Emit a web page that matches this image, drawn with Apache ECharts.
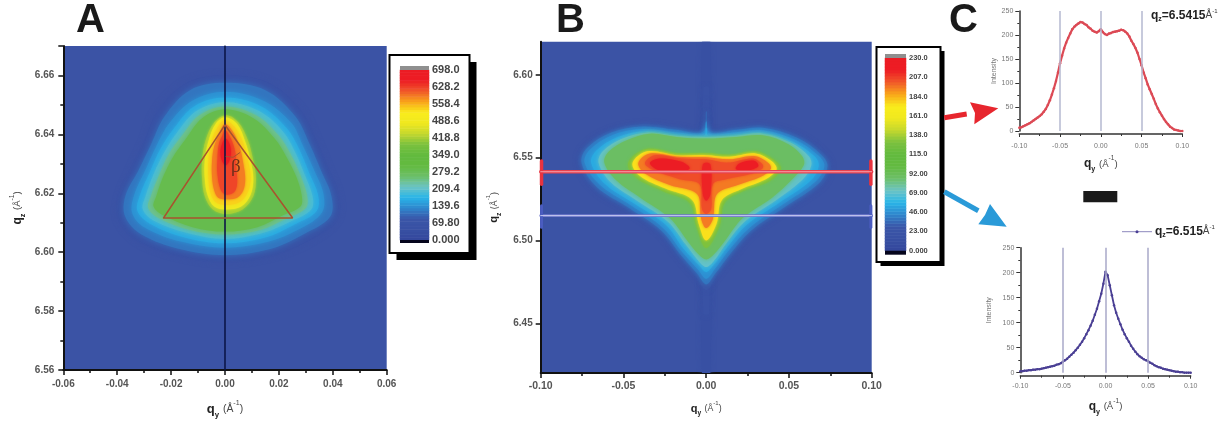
<!DOCTYPE html>
<html><head><meta charset="utf-8">
<style>html,body{margin:0;padding:0;background:#fff}#c{width:1229px;height:421px}</style>
<script src="https://cdn.jsdelivr.net/npm/echarts@6/dist/echarts.min.js"></script></head>
<body><div id="c"></div>
<script>
// Colour scale shared by both false-colour maps (low to high)
const palette=['#33479c','#3850a3','#3a56a8','#2f86cc','#29b5e8','#6cc4c4','#6cbf68','#63ba40','#62ba3e','#7bc13e','#c4d82e','#f0e81f','#f9ec1c','#f9a51a','#f0592a','#ed1c24','#ec1c24'];

// Panel A: iso-intensity outlines [qy, qz], with the intensity of each outline
const levelsA=[60,115,140,165,195,240,290,420,480,540,590,625,690];
const ringsA=[
[[0,6.660],[.016,6.6575],[.028,6.648],[.034,6.637],[.038,6.628],[.042,6.618],[.041,6.611],[.031,6.604],[.017,6.599],[0,6.597],[-.017,6.599],[-.032,6.604],[-.039,6.611],[-.039,6.618],[-.0345,6.628],[-.030,6.637],[-.025,6.648],[-.014,6.6575]],
[[0,6.6575],[.015,6.655],[.0262,6.646],[.0315,6.6365],[.0355,6.628],[.0395,6.619],[.039,6.612],[.029,6.606],[.0165,6.601],[0,6.599],[-.0165,6.601],[-.031,6.606],[-.037,6.612],[-.037,6.619],[-.032,6.628],[-.0275,6.6365],[-.0225,6.646],[-.013,6.655]],
[[0,6.6545],[.014,6.6515],[.0245,6.644],[.029,6.636],[.033,6.628],[.0365,6.620],[.036,6.6135],[.028,6.608],[.016,6.6035],[0,6.6015],[-.016,6.6035],[-.030,6.6085],[-.0345,6.6135],[-.0335,6.620],[-.0295,6.628],[-.0255,6.636],[-.0205,6.644],[-.012,6.6515]],
[[0,6.6525],[.0135,6.6495],[.023,6.642],[.0275,6.635],[.0312,6.627],[.0345,6.6195],[.034,6.614],[.026,6.6095],[.015,6.605],[0,6.603],[-.015,6.605],[-.0275,6.6095],[-.0325,6.614],[-.0315,6.6195],[-.028,6.627],[-.024,6.635],[-.019,6.642],[-.0115,6.6495]],
[[0,6.651],[.0125,6.648],[.0215,6.641],[.026,6.634],[.0295,6.6265],[.0325,6.619],[.032,6.6145],[.0245,6.6105],[.014,6.6065],[0,6.6045],[-.014,6.6065],[-.026,6.6105],[-.0305,6.6145],[-.0295,6.619],[-.0265,6.6265],[-.0225,6.634],[-.0175,6.641],[-.0105,6.648]],
[[0,6.6495],[.0115,6.6465],[.02,6.6395],[.0245,6.633],[.028,6.626],[.0305,6.619],[.03,6.615],[.023,6.6115],[.013,6.6075],[0,6.606],[-.013,6.6075],[-.0245,6.6115],[-.0285,6.615],[-.0275,6.619],[-.0245,6.626],[-.021,6.633],[-.016,6.6395],[-.0095,6.6465]],
[[0,6.6485],[.0105,6.6455],[.0185,6.6385],[.023,6.632],[.0265,6.6255],[.0285,6.619],[.028,6.6155],[.0215,6.6125],[.012,6.6085],[0,6.607],[-.012,6.6085],[-.023,6.6125],[-.0265,6.6155],[-.0255,6.619],[-.023,6.6255],[-.0195,6.632],[-.0145,6.6385],[-.0085,6.6455]],
[[.0005,6.6465],[.005,6.644],[.0085,6.638],[.0105,6.631],[.0115,6.625],[.0105,6.619],[.0065,6.6145],[.0005,6.613],[-.0045,6.6145],[-.0075,6.619],[-.0085,6.625],[-.0085,6.631],[-.0072,6.638],[-.004,6.644]],
[[0,6.6458],[.0045,6.6435],[.0075,6.6375],[.0095,6.631],[.0105,6.625],[.0095,6.6195],[.006,6.6155],[.0005,6.6145],[-.004,6.6155],[-.0065,6.6195],[-.0075,6.625],[-.0075,6.631],[-.0062,6.6375],[-.0035,6.6435]],
[[0,6.6449],[.004,6.642],[.0068,6.637],[.0085,6.631],[.0095,6.6255],[.0085,6.6205],[.0055,6.617],[.0005,6.616],[-.0035,6.617],[-.0055,6.6205],[-.0062,6.6255],[-.0062,6.631],[-.0052,6.637],[-.003,6.642]],
[[0,6.6435],[.0032,6.6405],[.0055,6.6355],[.0068,6.630],[.0075,6.625],[.0068,6.621],[.0045,6.6185],[.0005,6.618],[-.0025,6.6185],[-.004,6.621],[-.0048,6.6255],[-.0048,6.631],[-.004,6.636],[-.002,6.6405]],
[[0,6.6415],[.0022,6.6385],[.0038,6.634],[.0042,6.6285],[.0045,6.6235],[.0035,6.6205],[.0005,6.6195],[-.0015,6.621],[-.0028,6.6265],[-.0028,6.632],[-.0022,6.637],[-.001,6.6395]],
[[.0003,6.6385],[.0018,6.6365],[.0022,6.6335],[.0016,6.631],[.0003,6.6295],[-.0011,6.631],[-.0017,6.634],[-.001,6.637]]
];
// Panel B: iso-intensity outlines [qy, qz]
const levelsB=[14,19,26,38,46,54,70,88,130,175,195,204,226,214,218];
const ringsB=[
[[-.0025,6.62],[.0025,6.62],[.0025,6.42],[-.0025,6.42]],
[[-.0018,6.592],[.0018,6.592],[.0018,6.456],[-.0018,6.456]],
[[-.002,6.5675],[0,6.585],[.002,6.5675],[.0185,6.5685],[.0345,6.5695],[.0565,6.5635],[.0715,6.5525],[.0755,6.5448],[.0705,6.5335],[.0485,6.5185],[.0285,6.5045],[.016,6.4905],[.006,6.4775],[0,6.470],[-.006,6.4775],[-.016,6.489],[-.0285,6.5045],[-.0485,6.5185],[-.0685,6.5315],[-.0775,6.5468],[-.0735,6.557],[-.0585,6.5665],[-.0385,6.5705],[-.0185,6.5685]],
[[-.002,6.5655],[0,6.578],[.002,6.5655],[.0183,6.5668],[.0343,6.568],[.0553,6.5618],[.0698,6.5515],[.0733,6.5448],[.0683,6.5347],[.0473,6.52],[.0272,6.506],[.015,6.4925],[.0055,6.480],[0,6.4735],[-.0055,6.48],[-.015,6.4908],[-.0272,6.506],[-.0473,6.52],[-.0663,6.5325],[-.0753,6.5468],[-.072,6.5558],[-.0573,6.5652],[-.0383,6.5688],[-.0183,6.5668]],
[[-.002,6.5645],[0,6.572],[.002,6.5645],[.0181,6.5653],[.0342,6.5665],[.0543,6.5605],[.0683,6.5508],[.0714,6.5448],[.0663,6.5358],[.0462,6.5217],[.0261,6.5076],[.0141,6.4946],[.005,6.4825],[0,6.4769],[-.005,6.4825],[-.0141,6.4926],[-.0261,6.5076],[-.0462,6.5217],[-.0643,6.5337],[-.0734,6.5468],[-.0704,6.5548],[-.0563,6.5639],[-.0382,6.5673],[-.0181,6.5653]],
[[-.0015,6.563],[0,6.568],[.0015,6.563],[.0181,6.564],[.034,6.5652],[.0525,6.5595],[.0655,6.5508],[.068,6.545],[.063,6.536],[.0438,6.5225],[.0245,6.5095],[.0133,6.4965],[.0047,6.4855],[0,6.481],[-.0047,6.4855],[-.0133,6.4945],[-.0245,6.5095],[-.0438,6.5225],[-.061,6.534],[-.0695,6.5468],[-.0665,6.5542],[-.0535,6.5625],[-.037,6.566],[-.0181,6.564]],
[[0,6.5625],[.0181,6.5632],[.034,6.5645],[.0512,6.559],[.062,6.5508],[.0635,6.5452],[.058,6.5365],[.042,6.5242],[.0233,6.5115],[.0123,6.4985],[.0045,6.4875],[0,6.484],[-.0045,6.4875],[-.0123,6.4975],[-.0233,6.5115],[-.042,6.5242],[-.0575,6.535],[-.065,6.5468],[-.0625,6.5538],[-.0505,6.5615],[-.035,6.5652],[-.018,6.5632]],
[[0,6.5615],[.0181,6.5625],[.034,6.5635],[.050,6.558],[.058,6.5508],[.059,6.5455],[.052,6.537],[.040,6.526],[.022,6.5135],[.0115,6.50],[.0045,6.4915],[0,6.4885],[-.0045,6.4915],[-.0115,6.50],[-.022,6.5135],[-.040,6.526],[-.054,6.536],[-.0615,6.5468],[-.059,6.5535],[-.048,6.5605],[-.034,6.5645],[-.018,6.5625]],
[[0,6.5528],[.0141,6.5518],[.0302,6.5538],[.0422,6.5478],[.0452,6.5428],[.0382,6.5358],[.0221,6.5297],[.0111,6.5227],[.008,6.5086],[0,6.4956],[-.006,6.5086],[-.01,6.5227],[-.0261,6.5297],[-.0422,6.5378],[-.0472,6.5468],[-.0362,6.5552],[-.0181,6.5528]],
[[0,6.5515],[.0141,6.5505],[.0298,6.5525],[.040,6.5475],[.0425,6.5428],[.036,6.537],[.021,6.531],[.0095,6.5245],[.0062,6.510],[0,6.500],[-.0045,6.51],[-.0085,6.5245],[-.025,6.5315],[-.040,6.539],[-.0445,6.5468],[-.0355,6.5538],[-.018,6.5515]],
[[0,6.5502],[.0141,6.549],[.029,6.551],[.0375,6.5468],[.039,6.5432],[.033,6.5385],[.019,6.5335],[.0065,6.528],[.004,6.513],[0,6.5075],[-.003,6.513],[-.0055,6.528],[-.022,6.5335],[-.037,6.5405],[-.041,6.5468],[-.034,6.5525],[-.018,6.5505]],
[[0,6.549],[.013,6.547],[.028,6.5495],[.034,6.546],[.034,6.5435],[.028,6.5405],[.012,6.537],[.004,6.534],[.003,6.519],[0,6.516],[-.0025,6.519],[-.004,6.534],[-.016,6.537],[-.032,6.5425],[-.037,6.5468],[-.031,6.5515],[-.015,6.5495]],
[[-.034,6.5468],[-.028,6.5495],[-.015,6.5475],[-.010,6.5435],[-.018,6.541],[-.029,6.5425]],
[[-.002,6.546],[.0025,6.546],[.0025,6.528],[0,6.524],[-.002,6.528]],
[[.020,6.5465],[.029,6.5482],[.0315,6.545],[.026,6.5425],[.018,6.543]]
];
// Annotations on the maps
const triangleA=[[-.0228,6.6116],[0,6.6432],[.0251,6.6116],[-.0228,6.6116]];
const betaArcA=[[.0004,6.6325],[.003,6.6322],[.0055,6.6338]];
const cutHigh=6.5415, cutLow=6.515;

// Panel C: line cuts
const cutQy=[-.1,-.0975,-.095,-.0925,-.09,-.0875,-.085,-.0825,-.08,-.0775,-.075,-.0725,-.07,-.0675,-.065,-.0625,-.06,-.0575,-.055,-.0525,-.05,-.0475,-.045,-.0425,-.04,-.0375,-.035,-.0325,-.03,-.0275,-.025,-.0225,-.02,-.0175,-.015,-.0125,-.01,-.0075,-.005,-.0025,0,.0025,.005,.0075,.01,.0125,.015,.0175,.02,.0225,.025,.0275,.03,.0325,.035,.0375,.04,.0425,.045,.0475,.05,.0525,.055,.0575,.06,.0625,.065,.0675,.07,.0725,.075,.0775,.08,.0825,.085,.0875,.09,.0925,.095,.0975,.1];
const cutHighI=[7,8,10,12,14,16,19,22,25,28,31,35,40,46,54,64,76,89,104,122,141,157,172,184,194,203,212,217,221,224,227,226,223,221,216,213,209,207,205,208,212,206,202,200,203,204,206,207,208,209,211,210,207,203,197,188,181,173,163,150,137,122,110,97,87,77,67,56,47,39,32,25,19,14,9,6,3,2,1,0,0];
const cutLowI=[3,3,4,4,5,5,6,6,7,7,8,9,10,11,12,13,14,16,17,19,22,25,28,32,36,40,45,50,56,62,69,77,85,94,104,116,128,143,158,178,202,195,175,155,135,120,108,97,86,77,69,62,54,48,42,37,33,30,27,25,23,20,18,15,13,11,10,8,7,6,5,4,3,2,2,1,1,0,0,0,0];
const guideQy=[-.05,0,.05];

// Tick labels and colour-bar scales
const barLabelsA=['0.000','69.80','139.6','209.4','279.2','349.0','418.8','488.6','558.4','628.2','698.0'];
const barLabelsB=['0.000','23.00','46.00','69.00','92.00','115.0','138.0','161.0','184.0','207.0','230.0'];
const barMaxA=698, barMaxB=230, barBins=64;
const bTicksQz=[6.45,6.50,6.55,6.60], bMinorQz=[6.425,6.475,6.525,6.575];

const F='"Liberation Sans",Arial,sans-serif';
const tickLab=(size,color,weight)=>({fontFamily:F,fontSize:size,color:color,fontWeight:weight});
function nameRich(sub,s){return {
  a:{fontFamily:F,fontWeight:'bold',fontSize:s,color:'#222',lineHeight:s+6},
  b:{fontFamily:F,fontWeight:'bold',fontSize:s*.6,color:'#222',verticalAlign:'bottom',lineHeight:s+6,padding:[0,1,0,0]},
  n:{fontFamily:F,fontSize:s*.8,color:'#444',lineHeight:s+6},
  u:{fontFamily:F,fontSize:s*.55,color:'#444',verticalAlign:'top',lineHeight:s+6}};}
const qName=sub=>`{a|q}{b|${sub}}{n| (Å}{u|-1}{n|)}`;
function mapAxis(base){return Object.assign({type:'value',splitLine:{show:false},
  axisLine:{show:true,onZero:false,lineStyle:{color:'#111',width:2}},
  axisTick:{show:true,length:5,lineStyle:{color:'#111',width:1.5}},
  minorTick:{show:true,splitNumber:2,length:3,lineStyle:{color:'#111',width:1.5}}},base);}

const grids=[
 {left:63.3,top:46,width:323.4,height:324,show:true,backgroundColor:'#3b53a5',borderWidth:0,outerBoundsMode:'none'},
 {left:540.7,top:41.7,width:331,height:331.3,show:true,backgroundColor:'#3b53a5',borderWidth:0,outerBoundsMode:'none'},
 {left:1019.3,top:11,width:163,height:120,outerBoundsMode:'none'},
 {left:1020.3,top:247.7,width:170.4,height:125,outerBoundsMode:'none'},
 {left:400,top:70,width:29,height:170,outerBoundsMode:'none'},
 {left:885,top:58,width:21,height:192.7,outerBoundsMode:'none'}
];
const smallLab=tickLab(7,'#777','normal');
function cutX(i,gap,margin){return {type:'value',gridIndex:i,min:-.1,max:.1,interval:.05,offset:3,splitLine:{show:false},
  axisLine:{show:true,onZero:false,lineStyle:{color:'#333',width:1.5}},
  axisTick:{length:3,lineStyle:{color:'#333'}},minorTick:{show:true,splitNumber:2,length:2,lineStyle:{color:'#333'}},
  axisLabel:Object.assign({margin:margin,formatter:v=>v.toFixed(2),showMinLabel:true,showMaxLabel:true},smallLab),
  name:qName('y'),nameLocation:'middle',nameGap:gap,nameTextStyle:{rich:nameRich('y',12)}};}
function cutY(i,gap){return {type:'value',gridIndex:i,min:0,max:250,interval:50,splitLine:{show:false},
  axisLine:{show:true,onZero:false,lineStyle:{color:'#333',width:1.5}},
  axisTick:{length:4,lineStyle:{color:'#333'}},minorTick:{show:true,splitNumber:2,length:2,lineStyle:{color:'#333'}},
  axisLabel:Object.assign({margin:6},smallLab),
  name:'Intensity',nameLocation:'middle',nameGap:gap,nameRotate:90,nameTextStyle:tickLab(7,'#777','normal')};}
const xAxes=[
 mapAxis({gridIndex:0,min:-.06,max:.06,interval:.02,axisLabel:Object.assign({margin:9,formatter:v=>v.toFixed(2)},tickLab(10,'#555','bold')),
   name:qName('y'),nameLocation:'middle',nameGap:30,nameTextStyle:{rich:nameRich('y',13)}}),
 mapAxis({gridIndex:1,min:-.1,max:.1,interval:.05,
   axisLabel:Object.assign({margin:8,formatter:v=>v.toFixed(2)},tickLab(10.5,'#555','bold')),
   name:qName('y'),nameLocation:'middle',nameGap:27,nameTextStyle:{rich:nameRich('y',11)}}),
 cutX(2,21,9),cutX(3,22,7),
 {type:'category',gridIndex:4,data:['scale'],show:false},
 {type:'category',gridIndex:5,data:['scale'],show:false}
];
const binsFor=max=>Array.from({length:barBins},(_,i)=>(i+.5)*max/barBins);
function barVal(i,max,labels,size){return {type:'value',gridIndex:i,position:'right',z:6,min:0,max:max,interval:max/10,splitLine:{show:false},axisLine:{show:false},axisTick:{show:false},
  axisLabel:Object.assign({margin:3,formatter:v=>labels[Math.round(v/(max/10))]},tickLab(size,'#444','bold'))};}
const yAxes=[
 mapAxis({gridIndex:0,min:6.56,max:6.67,interval:.02,axisLabel:Object.assign({margin:9,showMaxLabel:false,formatter:v=>v.toFixed(2)},tickLab(10,'#555','bold')),
   name:qName('z'),nameLocation:'middle',nameGap:37,nameRotate:90,nameTextStyle:{rich:nameRich('z',12)}}),
 mapAxis({gridIndex:1,min:6.42,max:6.62,
   axisTick:{show:true,length:5,customValues:bTicksQz,lineStyle:{color:'#111',width:1.5}},minorTick:{show:false},
   axisLabel:Object.assign({margin:8,customValues:bTicksQz,formatter:v=>v.toFixed(2)},tickLab(10,'#555','bold')),
   name:qName('z'),nameLocation:'middle',nameGap:38,nameRotate:90,nameTextStyle:{rich:nameRich('z',11)}}),
 cutY(2,19),cutY(3,28),
 {type:'category',gridIndex:4,data:binsFor(barMaxA),show:false},
 {type:'category',gridIndex:5,data:binsFor(barMaxB),show:false},
 barVal(4,barMaxA,barLabelsA,11),
 barVal(5,barMaxB,barLabelsB,7.5),
 mapAxis({gridIndex:1,position:'left',min:6.42,max:6.62,axisLine:{show:false},axisLabel:{show:false},
   axisTick:{show:true,length:3,customValues:bMinorQz,lineStyle:{color:'#111',width:1.5}},minorTick:{show:false}})
];
function contour(xi,rings,levels,blurOuter,blurInner,innerFrom){return {type:'custom',xAxisIndex:xi,yAxisIndex:xi,coordinateSystem:'cartesian2d',clip:true,silent:true,z:2,
  encode:{x:0,y:1},
  data:rings.map((r,i)=>[r[0][0],r[0][1],levels[i]]),
  renderItem:(p,api)=>{const c=api.visual('color');
    return {type:'polygon',shape:{points:rings[p.dataIndex].map(q=>api.coord(q)),smooth:.35},
      style:{fill:c,shadowBlur:p.dataIndex>=innerFrom?blurInner:blurOuter,shadowColor:c}};}};}
function line(xi,pts,color,width,z){return {type:'line',xAxisIndex:xi,yAxisIndex:xi,data:pts,symbol:'none',silent:true,z:z||5,
  lineStyle:{color:color,width:width,cap:'round'}};}
function scaleBar(xi,yi,max){return {type:'heatmap',xAxisIndex:xi,yAxisIndex:yi,silent:true,
  data:binsFor(max).map((v,i)=>[0,i,v])};}
function cut(xi,values,color,width,guide){return {type:'line',xAxisIndex:xi,yAxisIndex:xi,data:cutQy.map((q,i)=>[q,values[i]]),
  symbol:'circle',symbolSize:2.5,itemStyle:{color:color},lineStyle:{color:color,width:width},silent:true,z:4,
  markLine:{silent:true,symbol:'none',label:{show:false},lineStyle:{color:guide,width:1.5,type:'solid'},data:guideQy.map(q=>({xAxis:q}))}};}

const series=[
 contour(0,ringsA,levelsA,6,3,7),      // 0
 contour(1,ringsB,levelsB,5,3,8),      // 1
 scaleBar(4,4,barMaxA),                // 2
 scaleBar(5,5,barMaxB),                // 3
 line(0,[[0,6.56],[0,6.67]],'#0c1648',1.6),
 line(0,triangleA,'#a8532e',1.5,6),
 line(0,betaArcA,'#a8532e',1,6),
 line(1,[[-.1,cutHigh],[.1,cutHigh]],'#e8434f',3.4),
 line(1,[[-.1,cutHigh],[.1,cutHigh]],'#f4a3b0',1,6),
 line(1,[[-.0995,6.534],[-.0995,6.548]],'#e8333f',3.5),
 line(1,[[.0995,6.534],[.0995,6.548]],'#e8333f',3.5),
 line(1,[[-.1,cutLow],[.1,cutLow]],'#6f78cc',2.6),
 line(1,[[-.1,cutLow],[.1,cutLow]],'#c8ccef',1,6),
 line(1,[[-.0995,6.508],[-.0995,6.521]],'#4a5cc0',3),
 line(1,[[.0995,6.508],[.0995,6.521]],'#4a5cc0',3),
 cut(2,cutHighI,'#dc4a55',2.2,'#b4b8d0'),
 cut(3,cutLowI,'#4a3f94',1.8,'#a9a8c8')
];
const vm=(idx,max)=>({show:false,seriesIndex:idx,dimension:2,min:0,max:max,inRange:{color:palette}});
const letter=(t,x)=>({type:'text',left:x,top:1,z:20,style:{text:t,font:'bold 40px '+F,fill:'#1a1a1a'}});
const box=(x,y,w,h,off)=>[
 {type:'rect',z:0,shape:{x:x+off,y:y+off,width:w,height:h},style:{fill:'#000'}},
 {type:'rect',z:1,shape:{x:x,y:y,width:w,height:h},style:{fill:'#fff',stroke:'#000',lineWidth:2}}];
const rect=(x,y,w,h,c)=>({type:'rect',z:10,shape:{x:x,y:y,width:w,height:h},style:{fill:c}});
const poly=(pts,c)=>({type:'polygon',z:10,shape:{points:pts},style:{fill:c}});
const seg=(p,q,c,w)=>({type:'line',z:10,shape:{x1:p[0],y1:p[1],x2:q[0],y2:q[1]},style:{stroke:c,lineWidth:w}});
const cutLabel=(x,y,z)=>({type:'text',z:10,x:x,y:y,style:{rich:{
   a:{font:'bold 12px '+F,fill:'#222'},s:{font:'bold 7px '+F,fill:'#222',verticalAlign:'bottom',lineHeight:15},
   u:{font:'6px '+F,fill:'#333',verticalAlign:'top',lineHeight:15},n:{font:'10px '+F,fill:'#444'}},
   text:`{a|q}{s|z}{a|=${z}}{n|Å}{u|-1}`}});

const graphic=[
 letter('A',76),letter('B',556),letter('C',949),
 ...box(389.5,55,80,198,7),
 ...box(876.5,47,64,215,4),
 rect(400,66,29,4,'#8f8f8f'),rect(400,240,29,3,'#05051c'),
 rect(885,54,21,4,'#8f8f8f'),rect(885,250.7,21,4,'#05051c'),
 seg([944.3,117.7],[966.7,114],'#e7262e',5),
 poly([[970,102.3],[998.3,108.3],[974.3,124.3],[975,113]],'#e7262e'),
 seg([944.3,191.7],[978.3,210.7],'#2a9ad8',5),
 poly([[990,204],[1006.7,226.7],[978.3,224.3],[985,215]],'#2a9ad8'),
 rect(1083.3,191,34,11.3,'#1a1a1a'),
 seg([1122,231.7],[1152,231.7],'#8d88bd',1),
 {type:'circle',z:10,shape:{cx:1137,cy:231.7,r:1.5},style:{fill:'#4a3f94'}},
 cutLabel(1151,8,'6.5415'),
 cutLabel(1155,224,'6.515'),
 {type:'text',z:10,x:231,y:158,style:{text:'β',font:'19px "Liberation Serif",serif',fill:'#6b2f1c'}}
];

echarts.init(document.getElementById('c'),null,{renderer:'canvas'}).setOption({
 animation:false,backgroundColor:'#fff',grid:grids,xAxis:xAxes,yAxis:yAxes,series:series,graphic:graphic,
 visualMap:[vm([0,2],barMaxA),vm([1,3],barMaxB)]
});
</script></body></html>
